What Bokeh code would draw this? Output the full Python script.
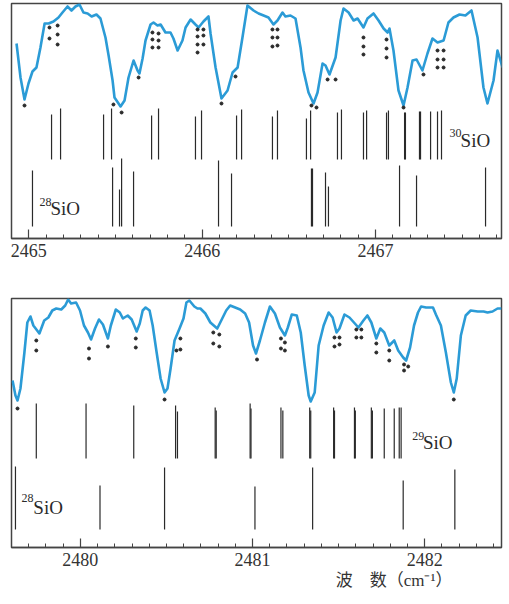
from bokeh.plotting import figure
from bokeh.layouts import column
from bokeh.models import Range1d, SingleIntervalTicker, Title
from bokeh.embed import file_html
from bokeh.resources import INLINE
from bokeh.core.properties import value

# ---------------- Panel 1 (2465-2467.7 cm-1), arbitrary intensity units ----------------
p1_wn = [2464.929, 2464.952, 2464.975, 2464.998, 2465.021, 2465.044, 2465.067, 2465.091, 2465.114, 2465.142,
         2465.171, 2465.194, 2465.223, 2465.246, 2465.269, 2465.292, 2465.315, 2465.339, 2465.362, 2465.390,
         2465.413, 2465.442, 2465.460, 2465.483, 2465.494, 2465.529, 2465.552, 2465.575, 2465.604, 2465.627,
         2465.638, 2465.656, 2465.673, 2465.702, 2465.719, 2465.742, 2465.760, 2465.788, 2465.817, 2465.834,
         2465.858, 2465.886, 2465.904, 2465.933, 2465.961, 2465.979, 2466.007, 2466.036, 2466.048, 2466.077,
         2466.111, 2466.146, 2466.175, 2466.204, 2466.232, 2466.261, 2466.296, 2466.325, 2466.354, 2466.382,
         2466.411, 2466.434, 2466.463, 2466.480, 2466.509, 2466.538, 2466.567, 2466.584, 2466.613, 2466.642,
         2466.665, 2466.694, 2466.711, 2466.734, 2466.769, 2466.798, 2466.815, 2466.844, 2466.873, 2466.896,
         2466.930, 2466.953, 2466.988, 2467.017, 2467.046, 2467.069, 2467.080, 2467.103, 2467.132, 2467.161,
         2467.184, 2467.213, 2467.236, 2467.270, 2467.299, 2467.328, 2467.357, 2467.392, 2467.420, 2467.449,
         2467.484, 2467.518, 2467.553, 2467.588, 2467.622, 2467.645, 2467.680, 2467.703, 2467.732]
p1_sig = [195, 161, 139, 155, 167, 171, 191, 215, 215, 217,
          221, 226, 232, 228, 232, 234, 226, 225, 222, 224,
          220, 201, 183, 158, 141, 132, 138, 161, 178, 168,
          165, 180, 198, 214, 216, 213, 214, 206, 206, 200,
          188, 198, 211, 219, 214, 211, 217, 222, 205, 171,
          140, 148, 166, 171, 201, 233, 228, 225, 223, 221,
          214, 218, 226, 222, 223, 220, 191, 168, 146, 135,
          146, 175, 173, 164, 181, 218, 230, 226, 218, 220,
          211, 220, 225, 218, 210, 206, 210, 188, 148, 133,
          151, 178, 179, 168, 185, 200, 196, 198, 216, 221,
          224, 223, 228, 201, 151, 135, 158, 188, 171]

p1_dot_wn = [2464.975, 2465.119, 2465.166, 2465.119, 2465.166, 2465.166, 2465.488, 2465.535, 2465.633,
             2465.713, 2465.748, 2465.713, 2465.748, 2465.713, 2465.748,
             2465.973, 2466.007, 2465.973, 2466.007, 2465.973, 2466.007, 2465.973,
             2466.111, 2466.192, 2466.405, 2466.434, 2466.405, 2466.434, 2466.405, 2466.434,
             2466.630, 2466.659, 2466.723, 2466.769, 2466.930, 2466.930, 2466.930,
             2467.063, 2467.063, 2467.063, 2467.161, 2467.276,
             2467.357, 2467.392, 2467.357, 2467.392, 2467.357, 2467.392]
p1_dot_y = [133, 211, 213, 200, 204, 194, 134, 126, 161,
            206, 205, 199, 198, 191, 191,
            209, 209, 202, 203, 194, 194, 186,
            135, 162, 209, 209, 201, 201, 192, 193,
            133, 131, 159, 159, 201, 192, 184,
            199, 190, 181, 131, 164,
            188, 188, 179, 179, 171, 171]

si30_wn = [2465.131, 2465.183, 2465.431, 2465.477, 2465.708, 2465.748, 2465.961, 2465.996, 2466.198,
           2466.227, 2466.405, 2466.434, 2466.601, 2466.625, 2466.780, 2466.803, 2466.930, 2466.948,
           2467.063, 2467.074, 2467.167, 2467.172, 2467.253, 2467.259, 2467.317, 2467.357, 2467.380]
si30_int = [45, 51, 45, 51, 44, 51, 43, 49, 44, 50, 43, 49, 41, 49, 47, 50, 47, 49,
            47, 49, 47, 47, 48, 48, 48, 48, 49]

si28a_wn = [2465.021, 2465.483, 2465.523, 2465.535, 2465.604, 2466.094, 2466.169,
            2466.630, 2466.636, 2466.711, 2466.728, 2467.138, 2467.236, 2467.634]
si28a_int = [56, 59, 37, 68, 55, 66, 53, 58, 58, 54, 40, 61, 51, 59]

# ---------------- Panel 2 (2479.6-2482.4 cm-1) ----------------
p2_wn = [2479.606, 2479.623, 2479.635, 2479.652, 2479.675, 2479.692, 2479.710, 2479.727, 2479.762, 2479.790,
         2479.814, 2479.837, 2479.860, 2479.889, 2479.912, 2479.929, 2479.946, 2479.975, 2479.998, 2480.021,
         2480.044, 2480.062, 2480.085, 2480.108, 2480.131, 2480.160, 2480.177, 2480.206, 2480.229, 2480.247,
         2480.275, 2480.298, 2480.327, 2480.345, 2480.362, 2480.379, 2480.402, 2480.420, 2480.443, 2480.466,
         2480.489, 2480.506, 2480.524, 2480.547, 2480.576, 2480.599, 2480.616, 2480.633, 2480.662, 2480.680,
         2480.697, 2480.726, 2480.755, 2480.795, 2480.824, 2480.847, 2480.870, 2480.899, 2480.928, 2480.957,
         2480.980, 2481.003, 2481.020, 2481.043, 2481.072, 2481.101, 2481.130, 2481.159, 2481.188, 2481.205,
         2481.228, 2481.257, 2481.280, 2481.303, 2481.326, 2481.338, 2481.361, 2481.384, 2481.413, 2481.442,
         2481.465, 2481.488, 2481.505, 2481.534, 2481.563, 2481.615, 2481.644, 2481.667, 2481.690, 2481.719,
         2481.742, 2481.765, 2481.794, 2481.823, 2481.846, 2481.875, 2481.892, 2481.915, 2481.938, 2481.961,
         2481.979, 2482.008, 2482.048, 2482.065, 2482.094, 2482.123, 2482.152, 2482.169, 2482.186, 2482.210,
         2482.238, 2482.267, 2482.308, 2482.342, 2482.365, 2482.394, 2482.423, 2482.446]
p2_sig = [167, 152, 147, 159, 195, 225, 231, 222, 214, 227,
          230, 237, 239, 238, 242, 248, 244, 245, 237, 222,
          215, 208, 219, 228, 223, 209, 222, 238, 235, 229,
          232, 228, 216, 224, 237, 240, 237, 222, 195, 169,
          155, 159, 179, 207, 219, 229, 245, 247, 241, 239,
          239, 234, 225, 219, 229, 237, 242, 240, 238, 234,
          225, 202, 194, 207, 225, 241, 234, 220, 212, 220,
          233, 232, 215, 182, 152, 146, 155, 202, 222, 235,
          230, 215, 219, 233, 230, 220, 227, 232, 225, 209,
          219, 215, 202, 207, 197, 190, 187, 200, 222, 235,
          241, 240, 240, 233, 222, 195, 165, 155, 169, 212,
          232, 237, 236, 236, 235, 236, 239, 239]

p2_dot_wn = [2479.635, 2479.744, 2479.744, 2480.050, 2480.050, 2480.160, 2480.322, 2480.322, 2480.489,
             2480.581, 2480.558, 2480.581, 2480.772, 2480.807, 2480.772, 2480.807, 2481.026,
             2481.165, 2481.188, 2481.165, 2481.188, 2481.476, 2481.505, 2481.476, 2481.505,
             2481.603, 2481.632, 2481.603, 2481.632, 2481.719, 2481.719, 2481.794, 2481.794,
             2481.880, 2481.904, 2481.880, 2482.169]
p2_dot_y = [139, 207, 197, 199, 189, 201, 209, 200, 148,
            209, 197, 198, 215, 213, 204, 201, 188,
            209, 205, 199, 197, 210, 210, 201, 203,
            218, 218, 210, 210, 204, 195, 197, 187,
            183, 181, 177, 148]

si29_wn = [2479.744, 2480.033, 2480.310, 2480.553, 2480.564, 2480.783, 2480.789, 2480.986, 2480.991,
           2481.165, 2481.176, 2481.332, 2481.338, 2481.471, 2481.476, 2481.592, 2481.597, 2481.690,
           2481.696, 2481.765, 2481.823, 2481.852, 2481.863]
si29_int = [55, 55, 53, 53, 47, 51, 48, 55, 50, 51, 48, 51, 48, 51, 48, 51, 48, 51, 48, 50, 50, 51, 51]

si28b_wn = [2479.623, 2480.114, 2480.489, 2481.014, 2481.349, 2481.875, 2482.175]
si28b_int = [63, 44, 62, 43, 62, 49, 60]

# isotope labels: mass number (superscript) + molecule
iso1_mass = ["30", "28"]
iso2_mass = ["29", "28"]
molecule = "SiO"
xlabel = "波　数（cm⁻¹）"

BLUE = "#2b9bd6"
INK = "#2a2a2a"
FRAME = "#444444"
SERIF = "Liberation Serif"


def make_fig(xr, ytop, h, bl, bt, bb):
    p = figure(width=504, height=h, x_range=Range1d(*xr), y_range=Range1d(0, ytop),
               output_backend="svg", toolbar_location=None, y_axis_location=None,
               min_border_left=bl, min_border_right=3, min_border_top=bt, min_border_bottom=bb)
    p.grid.grid_line_color = None
    p.outline_line_color = FRAME
    p.outline_line_width = 1.5
    p.background_fill_color = "white"
    p.border_fill_color = "white"
    ax = p.xaxis[0]
    ax.ticker = SingleIntervalTicker(interval=1, num_minor_ticks=10)
    ax.major_tick_in = 9
    ax.major_tick_out = 0
    ax.minor_tick_in = 4
    ax.minor_tick_out = 0
    ax.axis_line_color = FRAME
    ax.axis_line_width = 1.5
    ax.major_tick_line_color = FRAME
    ax.minor_tick_line_color = FRAME
    ax.major_tick_line_width = 1.2
    ax.minor_tick_line_width = 1.0
    ax.major_label_text_font = "Liberation Serif, serif"
    ax.major_label_text_font_size = "18px"
    ax.major_label_text_color = "#333333"
    ax.major_label_standoff = 5
    return p


def iso_label(p, mass, mx, my, sx, sy):
    p.text(x=[mx], y=[my], text=[mass], text_font=value(SERIF), text_font_size="12px",
           text_baseline="alphabetic", text_align="left", text_color=INK)
    p.text(x=[sx], y=[sy], text=[molecule], text_font=value(SERIF), text_font_size="19px",
           text_baseline="alphabetic", text_align="left", text_color=INK)


# panel 1
p1 = make_fig((2464.900, 2467.726), 235, 296, 11, 3, 58)
base30, base28a = 79, 12
p1.segment(x0=si30_wn, y0=[base30] * len(si30_wn), x1=si30_wn,
           y1=[base30 + v for v in si30_int], line_color=INK, line_width=1.2)
p1.segment(x0=si28a_wn, y0=[base28a] * len(si28a_wn), x1=si28a_wn,
           y1=[base28a + v for v in si28a_int], line_color=INK, line_width=1.2)
p1.line(p1_wn, p1_sig, line_color=BLUE, line_width=2.6, line_join="round")
p1.scatter(p1_dot_wn, p1_dot_y, size=3, color=INK)
iso_label(p1, iso1_mass[0], 2467.426, 106, 2467.490, 98)
iso_label(p1, iso1_mass[1], 2465.062, 37, 2465.125, 30)

# panel 2
p2 = make_fig((2479.600, 2482.446), 249, 308, 8, 2, 57)
base29, base28b = 89, 18
p2.segment(x0=si29_wn, y0=[base29] * len(si29_wn), x1=si29_wn,
           y1=[base29 + v for v in si29_int], line_color=INK, line_width=1.2)
p2.segment(x0=si28b_wn, y0=[base28b] * len(si28b_wn), x1=si28b_wn,
           y1=[base28b + v for v in si28b_int], line_color=INK, line_width=1.2)
p2.line(p2_wn, p2_sig, line_color=BLUE, line_width=2.6, line_join="round")
p2.scatter(p2_dot_wn, p2_dot_y, size=3, color=INK)
iso_label(p2, iso2_mass[0], 2481.927, 112, 2481.990, 105)
iso_label(p2, iso2_mass[1], 2479.658, 50, 2479.727, 40)
p2.add_layout(Title(text=xlabel, align="right", offset=49, text_font="Liberation Serif, Noto Sans CJK SC",
                    text_font_size="17px", text_font_style="normal", text_color="#333333",
                    padding=(30, 0, 0, 0), standoff=0), "below")

layout = column(p1, p2)
open("out.html", "w").write(file_html(layout, INLINE))
